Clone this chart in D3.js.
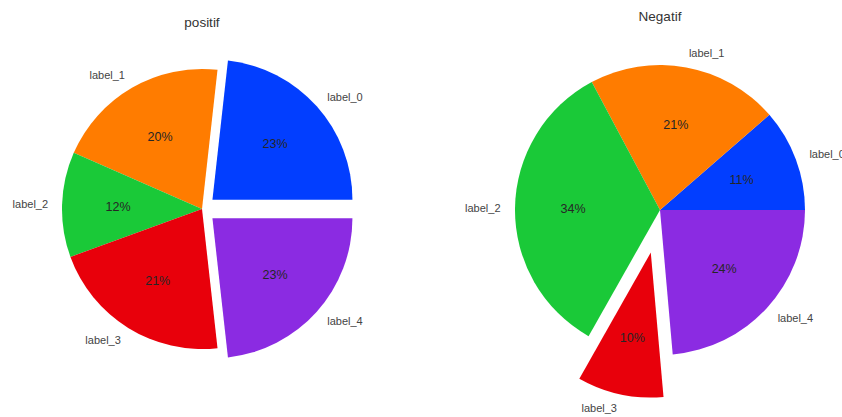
<!DOCTYPE html>
<html>
<head>
<meta charset="utf-8">
<script src="https://cdn.jsdelivr.net/npm/d3@7"></script>
<style>
  html, body { margin: 0; padding: 0; background: #fff; }
  svg { display: block; }
  text { font-family: "Liberation Sans", Arial, sans-serif; }
</style>
</head>
<body>
<svg id="chart" width="842" height="417"></svg>
<script>
const categories = ["label_0", "label_1", "label_2", "label_3", "label_4"];
const colors = ["#023eff", "#ff7c00", "#1ac938", "#e8000b", "#8b2be2"];
const positifValues = [23, 20, 12, 21, 23];
const positifExplode = [0.1, 0, 0, 0, 0.1];
const negatifValues = [11.4, 21.4, 34.0, 9.6, 23.6];
const negatifExplode = [0, 0, 0, 0.3, 0];

const svg = d3.select("#chart");

function drawPie(cfg) {
  const g = svg.append("g").attr("transform", `translate(${cfg.cx},${cfg.cy})`);
  const total = d3.sum(cfg.values);
  // matplotlib: start at 3 o'clock, counter-clockwise
  const pie = d3.pie().sort(null).value(d => d.v)
    .startAngle(Math.PI / 2).endAngle(Math.PI / 2 - 2 * Math.PI);
  const data = pie(cfg.values.map((v, i) => ({ v, i, name: categories[i] })));
  const arc = d3.arc().innerRadius(0).outerRadius(cfg.r);
  const pos = (a, dist) => [Math.sin(a) * dist, -Math.cos(a) * dist];

  data.forEach(d => {
    const mid = (d.startAngle + d.endAngle) / 2;
    const ex = cfg.explode[d.data.i] * cfg.r;
    const [ox, oy] = pos(mid, ex);
    const wg = g.append("g").attr("transform", `translate(${ox},${oy})`);
    wg.append("path").attr("d", arc(d)).attr("fill", colors[d.data.i]);
    const [px, py] = pos(mid, cfg.r * 0.6);
    wg.append("text")
      .attr("x", px).attr("y", py).attr("dy", "0.35em")
      .attr("text-anchor", "middle")
      .attr("font-size", 12.5)
      .attr("fill", "#262626")
      .text(Math.round(d.data.v / total * 100) + "%");
    const [lx, ly] = pos(mid, cfg.r * 1.1);
    wg.append("text")
      .attr("x", lx).attr("y", ly).attr("dy", "0.35em")
      .attr("text-anchor", lx >= 0 ? "start" : "end")
      .attr("font-size", 11)
      .attr("fill", "#444")
      .text(d.data.name);
  });

  svg.append("text")
    .attr("x", cfg.cx).attr("y", cfg.titleY)
    .attr("text-anchor", "middle")
    .attr("font-size", 13.5)
    .attr("fill", "#333")
    .text(cfg.title);
}

drawPie({ cx: 202, cy: 209, r: 140, values: positifValues, explode: positifExplode, title: "positif", titleY: 27 });
drawPie({ cx: 660, cy: 210, r: 145, values: negatifValues, explode: negatifExplode, title: "Negatif", titleY: 21 });
</script>
</body>
</html>
